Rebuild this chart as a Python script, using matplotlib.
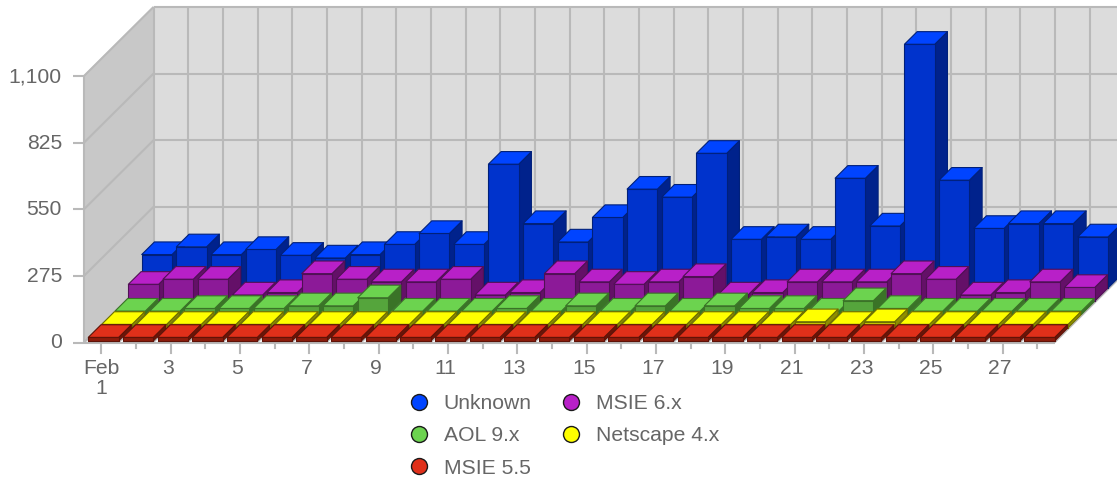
import matplotlib
matplotlib.use("Agg")
from matplotlib import pyplot as plt
from matplotlib.lines import Line2D
from matplotlib.patches import Polygon

plt.rcParams['font.family'] = ['Liberation Sans', 'DejaVu Sans']

# values
days = list(range(1, 29))
unknown = [138, 170, 138, 159, 135, 124, 138, 180, 225, 180, 511, 266, 190, 291,
           408, 375, 556, 201, 211, 201, 453, 256, 1006, 445, 246, 266, 266, 211]
msie6 = [70, 91, 91, 26, 36, 114, 91, 80, 80, 91, 26, 36, 114, 80,
         70, 80, 102, 26, 36, 80, 80, 80, 114, 91, 26, 36, 80, 57]
aol9 = [14, 14, 25, 25, 25, 36, 36, 69, 14, 14, 14, 25, 14, 36,
        14, 36, 14, 36, 25, 25, 14, 57, 25, 14, 14, 14, 14, 14]
netscape4 = [14, 14, 14, 14, 14, 14, 14, 14, 14, 14, 14, 14, 14, 14,
             14, 14, 14, 14, 14, 14, 25, 14, 25, 14, 14, 14, 14, 14]
msie55 = [15, 15, 15, 15, 15, 15, 15, 15, 15, 15, 15, 15, 15, 15,
          15, 15, 15, 15, 15, 15, 15, 15, 15, 15, 15, 15, 15, 15]
y_ticks = [0, 275, 550, 825, 1100]

# front to back: values, name, (top, front, side, edge)
series = [
    (msie55, 'MSIE 5.5', ('#e0301a', '#8c1c0c', '#6e1608', '#5e1207')),
    (netscape4, 'Netscape 4.x', ('#ffff00', '#c8c800', '#8f8f00', '#6e6e00')),
    (aol9, 'AOL 9.x', ('#6cd34f', '#55a53c', '#3a7327', '#3a7327')),
    (msie6, 'MSIE 6.x', ('#b820c8', '#8c1a98', '#641068', '#501054')),
    (unknown, 'Unknown', ('#0044ff', '#0033cc', '#00228c', '#00207a')),
]

W, H = 1117, 478
X0, Y0 = 84.0, 342.5    # front left corner of the floor, pixels
CAT = 34.67             # pixels per day
PX_PER_VAL = 266.5 / 1100
DEPTH = 69.5            # depth of the box, pixels
STEP = 13.35
BAR_W = 0.874
BAR_D = 12.7
GRID = '#b9b9b9'
TEXT = '#666666'
FONT = 15.2


def project(cat, val, z=0.0):
    # oblique projection: z pushes a point back and to the right
    return cat + z / CAT, val + z * 0.993 / PX_PER_VAL


def face(ax, pts, color, edge=None, lw=0.8, zorder=3):
    ax.add_patch(Polygon([project(*p) for p in pts], closed=True, facecolor=color,
                         edgecolor=edge if edge else color, linewidth=lw,
                         joinstyle='round', zorder=zorder))


def line(ax, a, b, lw=1.5, color=GRID, zorder=2):
    xa, ya = project(*a)
    xb, yb = project(*b)
    ax.plot([xa, xb], [ya, yb], color=color, lw=lw, solid_capstyle='butt', zorder=zorder)


def draw_bar(ax, cat, val, z, colors):
    top, front, side, edge = colors
    x0, x1 = cat + 0.081, cat + 0.081 + BAR_W
    z1 = z + BAR_D
    face(ax, [(x1, 0, z), (x1, 0, z1), (x1, val, z1), (x1, val, z)], side, edge)
    face(ax, [(x0, 0, z), (x1, 0, z), (x1, val, z), (x0, val, z)], front, edge)
    face(ax, [(x0, val, z), (x1, val, z), (x1, val, z1), (x0, val, z1)], top, edge)


fig = plt.figure(figsize=(W / 100, H / 100), dpi=100)
ax = fig.add_axes([0, 0, 1, 1])
ax.set_xlim(-X0 / CAT, (W - X0) / CAT)
ax.set_ylim(-(H - Y0) / PX_PER_VAL, Y0 / PX_PER_VAL)
ax.axis('off')

n = len(days)
top_val = y_ticks[-1]

# walls and floor
face(ax, [(0, 0, DEPTH), (n, 0, DEPTH), (n, top_val, DEPTH), (0, top_val, DEPTH)], '#dcdcdc', zorder=1)
face(ax, [(0, 0, 0), (0, 0, DEPTH), (0, top_val, DEPTH), (0, top_val, 0)], '#c8c8c8', zorder=1)
for t in y_ticks:
    line(ax, (0, t, 0), (0, t, DEPTH))
    line(ax, (0, t, DEPTH), (n, t, DEPTH))
    tx, ty = project(-0.32, t)
    line(ax, (-0.32, t), (0, t))
    ax.text(tx - 11 / CAT, ty + 1.5 / PX_PER_VAL, f'{t:,}', ha='right', va='center_baseline',
            fontsize=FONT, color=TEXT)
for i in range(n + 1):
    line(ax, (i, 0, DEPTH), (i, top_val, DEPTH))
    line(ax, (i, 0, 0), (i, 0, DEPTH), lw=1.1)
line(ax, (0, 0, 0), (0, top_val, 0))
line(ax, (0, 0, 0), (n, 0, 0))

# x ticks and labels
for i, d in enumerate(days):
    px = 10 if i % 2 == 0 else 5
    ax.plot([i + 0.5, i + 0.5], [0, -px / PX_PER_VAL], color=GRID, lw=1.5, zorder=2)
    if i % 2 == 0:
        lx = i + 0.42 if i else i + 0.5
        label = f'Feb\n{d}' if d == 1 else str(d)
        ax.text(lx, -17 / PX_PER_VAL, label, ha='center', va='top', fontsize=FONT,
                color=TEXT, linespacing=1.0)

# bars, back row first, left to right inside a row
for k in range(len(series) - 1, -1, -1):
    vals, name, colors = series[k]
    z = 1.5 + STEP * k
    for i, v in enumerate(vals):
        draw_bar(ax, i, v, z, colors)

handles = [Line2D([], [], ls='', marker='o', ms=11.5, mfc=s[2][0], mec='#1a1a1a', mew=1, label=s[1])
           for s in series[::-1]]
order = [0, 2, 4, 1, 3]
ax.legend([handles[j] for j in order], [handles[j].get_label() for j in order],
          ncols=2, frameon=False, loc='upper left', bbox_to_anchor=(399 / W, 1 - 388 / H),
          fontsize=FONT, labelcolor=TEXT, handletextpad=0.51, columnspacing=1.22,
          labelspacing=0.62, handlelength=1.3, borderpad=0.3, borderaxespad=0)

fig.savefig('out.png', dpi=100)
